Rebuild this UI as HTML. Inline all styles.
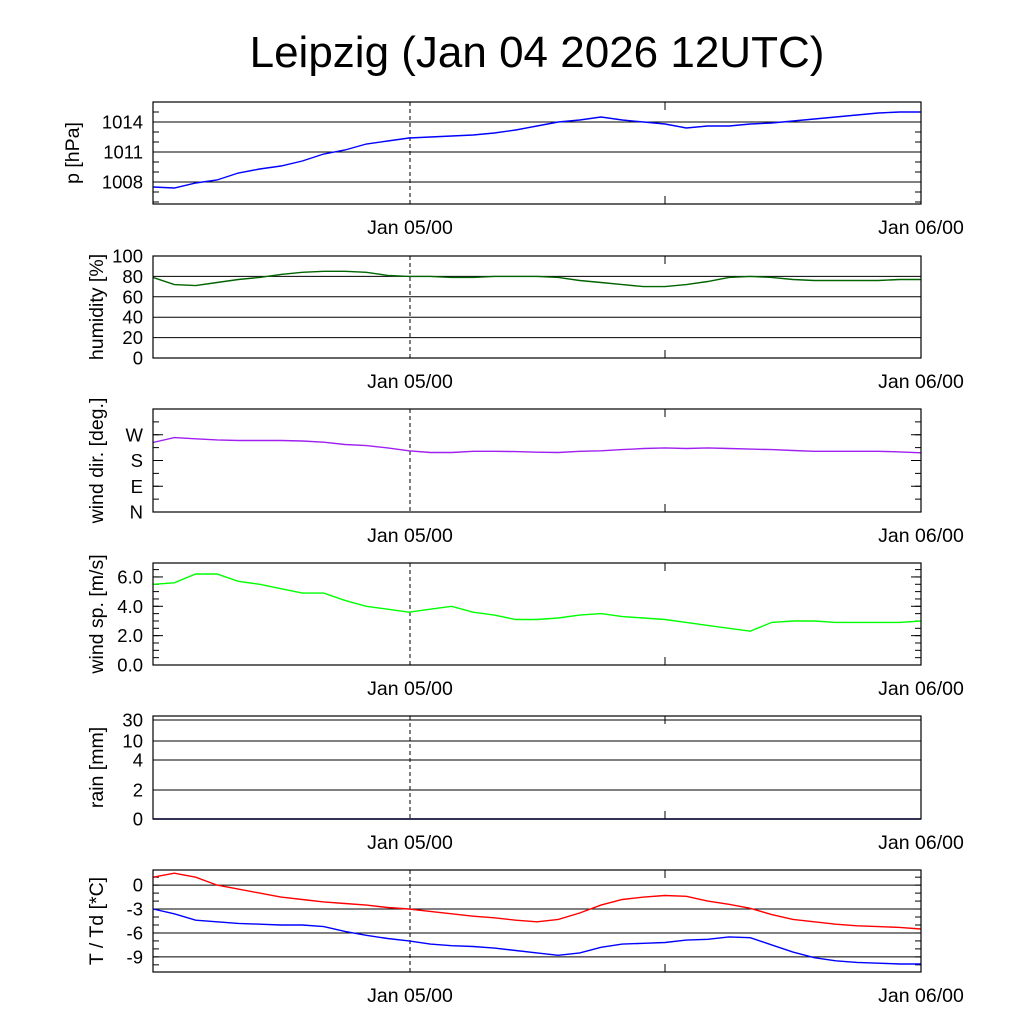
<!DOCTYPE html>
<html><head><meta charset="utf-8"><style>
body{margin:0;background:#fff}
svg{display:block;font-family:"Liberation Sans",sans-serif}
</style></head><body>
<svg id="c" width="1024" height="1024" viewBox="0 0 1024 1024">
<text x="537" y="67" font-size="44" text-anchor="middle">Leipzig (Jan 04 2026 12UTC)</text>
</svg>
<script>
const hours=[0,1,2,3,4,5,6,7,8,9,10,11,12,13,14,15,16,17,18,19,20,21,22,23,24,25,26,27,28,29,30,31,32,33,34,35,36];
const pressure=[1007.5,1007.4,1007.9,1008.2,1008.9,1009.3,1009.6,1010.1,1010.8,1011.2,1011.8,1012.1,1012.4,1012.5,1012.6,1012.7,1012.9,1013.2,1013.6,1014.0,1014.2,1014.5,1014.2,1014.0,1013.8,1013.4,1013.6,1013.6,1013.8,1013.9,1014.1,1014.3,1014.5,1014.7,1014.9,1015.0,1015.0];
const humidity=[79,72,71,74,77,79,82,84,85,85,84,81,80,80,79,79,80,80,80,79,76,74,72,70,70,72,75,79,80,79,77,76,76,76,76,77,77];
const windDir=[243,260,256,252,250,250,250,248,244,236,232,224,214,208,208,212,212,211,209,208,212,214,218,222,224,222,224,222,220,218,215,212,212,212,212,210,207];
const windSpeed=[5.5,5.6,6.2,6.2,5.7,5.5,5.2,4.9,4.9,4.4,4.0,3.8,3.6,3.8,4.0,3.6,3.4,3.1,3.1,3.2,3.4,3.5,3.3,3.2,3.1,2.9,2.7,2.5,2.3,2.9,3.0,3.0,2.9,2.9,2.9,2.9,3.0];
const rain=[0,0,0,0,0,0,0,0,0,0,0,0,0,0,0,0,0,0,0,0,0,0,0,0,0,0,0,0,0,0,0,0,0,0,0,0,0];
const temp=[1.0,1.5,1.0,0.0,-0.5,-1.0,-1.5,-1.8,-2.1,-2.3,-2.5,-2.8,-3.0,-3.3,-3.6,-3.9,-4.1,-4.4,-4.6,-4.3,-3.5,-2.5,-1.8,-1.5,-1.3,-1.4,-2.0,-2.4,-2.9,-3.7,-4.3,-4.6,-4.9,-5.1,-5.2,-5.3,-5.5];
const dew=[-3.0,-3.6,-4.4,-4.6,-4.8,-4.9,-5.0,-5.0,-5.2,-5.8,-6.3,-6.7,-7.0,-7.4,-7.6,-7.7,-7.9,-8.2,-8.5,-8.8,-8.5,-7.8,-7.4,-7.3,-7.2,-6.9,-6.8,-6.5,-6.6,-7.5,-8.4,-9.1,-9.5,-9.7,-9.8,-9.9,-9.9];
const xTickLabels=["Jan 05/00","Jan 06/00"];
const pTicks=[1008,1011,1014], pTickLabels=["1008","1011","1014"];
const hTicks=[0,20,40,60,80,100], hTickLabels=["0","20","40","60","80","100"];
const dTicks=[0,90,180,270], dTickLabels=["N","E","S","W"];
const sTicks=[0,2,4,6], sTickLabels=["0.0","2.0","4.0","6.0"];
const rTicks=[0,2,4,10,30], rTickLabels=["0","2","4","10","30"];
const tTicks=[0,-3,-6,-9], tTickLabels=["0","-3","-6","-9"];

const NS="http://www.w3.org/2000/svg";
const svg=document.getElementById('c');
const X0=153,X1=921;
const xs=h=>X0+(X1-X0)*h/36;
function el(t,a,p){const e=document.createElementNS(NS,t);for(const k in a)e.setAttribute(k,a[k]);(p||svg).appendChild(e);return e;}
function rainScale(v){const vals=[0,2,4,10,30],px=[819,790,760,741,720];for(let i=0;i<4;i++){if(v<=vals[i+1])return px[i]+(px[i+1]-px[i])*(v-vals[i])/(vals[i+1]-vals[i]);}return 716;}
function panel(name,top,bot,ymin,ymax,label,ticks,labels,grid,series,minorStep,scale){
  const g=el('g',{});
  
  
  const ys=scale||(v=>bot-(bot-top)*(v-ymin)/(ymax-ymin));
  if(minorStep){for(let v=Math.ceil(ymin/minorStep)*minorStep;v<=ymax;v+=minorStep){const y=ys(v);el('line',{x1:X0,x2:X0+6,y1:y,y2:y,stroke:'#000','stroke-width':1},g);el('line',{x1:X1-6,x2:X1,y1:y,y2:y,stroke:'#000','stroke-width':1},g);}}
  ticks.forEach((v,i)=>{const y=ys(v);
    if(grid){const l=el('line',{x1:X0,x2:X1,y1:y,y2:y,stroke:'#000','stroke-width':1},g);}
    else{el('line',{x1:X0,x2:X0+10,y1:y,y2:y,stroke:'#000'},g);el('line',{x1:X1-10,x2:X1,y1:y,y2:y,stroke:'#000'},g);}
    const t=el('text',{x:X0-10,y:y+6.5,'font-size':18.5,'text-anchor':'end'},g);t.textContent=labels[i];
    });
  el('line',{x1:410,x2:410,y1:top,y2:bot,stroke:'#000','stroke-dasharray':'4,3'},g);
  el('line',{x1:665,x2:665,y1:bot-8,y2:bot,stroke:'#000'},g);
  el('line',{x1:665,x2:665,y1:top,y2:top+8,stroke:'#000'},g);
  series.forEach(s=>{let d='';s.data.forEach((v,i)=>{d+=(i?'L':'M')+xs(hours[i]).toFixed(1)+','+ys(v).toFixed(1);});
    const p=el('path',{d:d,fill:'none',stroke:s.color,'stroke-width':1.4},g);
    });
  const fr=el('rect',{x:X0,y:top,width:X1-X0,height:bot-top,fill:'none',stroke:'#000','stroke-width':1.2},g);
  
  const cy=(top+bot)/2;
  const yl=el('text',{x:0,y:0,'font-size':19.5,'text-anchor':'middle',transform:`translate(${name==='pressure'?79:103},${cy}) rotate(-90)`},g);
  yl.textContent=label;
  [[410,xTickLabels[0]],[921,xTickLabels[1]]].forEach(([x,s])=>{const t=el('text',{x:x,y:bot+30,'font-size':19.5,'text-anchor':'middle'},g);t.textContent=s;
    });
}
panel('pressure',102,204,1005.8,1016,'p [hPa]',pTicks,pTickLabels,true,[{data:pressure,color:'#0000ff',name:'pressure-line'}],1);
panel('humidity',256,358,0,100,'humidity [%]',hTicks,hTickLabels,true,[{data:humidity,color:'#006400',name:'humidity-line'}],null);
panel('wind-dir',409,512,0,360,'wind dir. [deg.]',dTicks,dTickLabels,false,[{data:windDir,color:'#a020f0',name:'wind-dir-line'}],45);
panel('wind-speed',563,665,0,6.95,'wind sp. [m/s]',sTicks,sTickLabels,false,[{data:windSpeed,color:'#00ff00',name:'wind-speed-line'}],0.5);
panel('rain',716,819,0,30,'rain [mm]',rTicks,rTickLabels,true,[{data:rain,color:'#0000aa',name:'rain-line'}],null,rainScale);
panel('temperature',870,972,-10.9,1.9,'T / Td [*C]',tTicks,tTickLabels,true,[{data:temp,color:'#ff0000',name:'temperature-line'},{data:dew,color:'#0000ff',name:'dewpoint-line'}],1);
</script>
</body></html>
